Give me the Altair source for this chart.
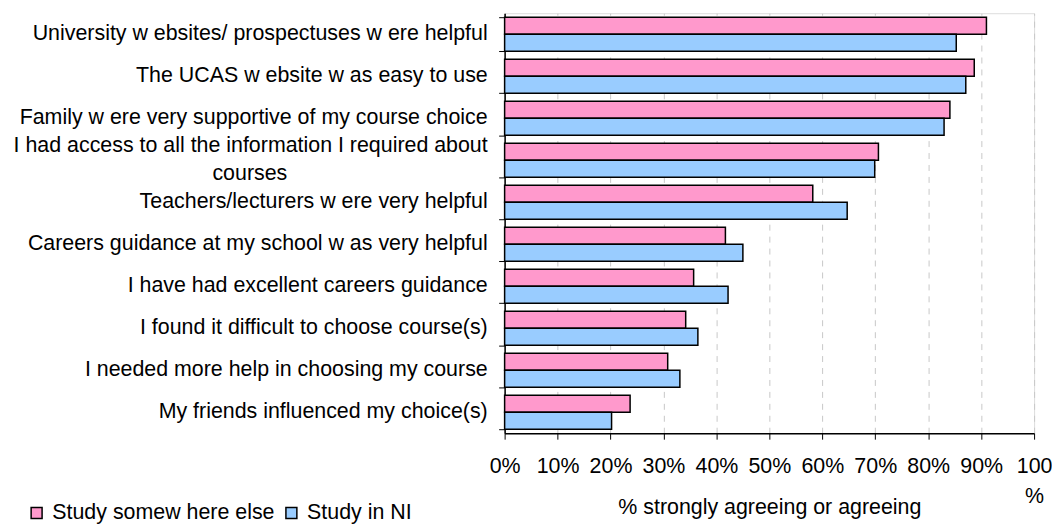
import altair as alt
import pandas as pd

questions = [
    "University w ebsites/ prospectuses w ere helpful",
    "The UCAS w ebsite w as easy to use",
    "Family w ere very supportive of my course choice",
    "I had access to all the information I required about courses",
    "Teachers/lecturers w ere very helpful",
    "Careers guidance at my school w as very helpful",
    "I have had excellent careers guidance",
    "I found it difficult to choose course(s)",
    "I needed more help  in choosing my course",
    "My friends influenced my choice(s)",
]
# first line / wrapped second line of each category label
label_line1 = [
    "University w ebsites/ prospectuses w ere helpful",
    "The UCAS w ebsite w as easy to use",
    "Family w ere very supportive of my course choice",
    "I had access to all the information I required about",
    "Teachers/lecturers w ere very helpful",
    "Careers guidance at my school w as very helpful",
    "I have had excellent careers guidance",
    "I found it difficult to choose course(s)",
    "I needed more help  in choosing my course",
    "My friends influenced my choice(s)",
]
label_line2 = ["", "", "", "courses", "", "", "", "", "", ""]

series = ["Study somew here else", "Study in NI"]
somewhere_else = [91.0, 88.7, 84.1, 70.6, 58.2, 41.7, 35.7, 34.2, 30.8, 23.7]
in_ni = [85.3, 87.1, 83.0, 69.9, 64.7, 45.0, 42.2, 36.5, 33.1, 20.2]
x_ticks = [0, 0.1, 0.2, 0.3, 0.4, 0.5, 0.6, 0.7, 0.8, 0.9, 1.0]
colors = ["#FF99CC", "#99CCFF"]

rows = []
for q, a, b in zip(questions, somewhere_else, in_ni):
    rows.append({"question": q, "series": series[0], "value": a / 100})
    rows.append({"question": q, "series": series[1], "value": b / 100})
df = pd.DataFrame(rows)

labels_df = pd.DataFrame(
    {
        "question": questions,
        "line1": label_line1,
        "line2": label_line2,
        "wrapped": [l2 != "" for l2 in label_line2],
    }
)

FONT = "Liberation Sans"
FS = 21.5

y_enc = alt.Y(
    "question:N",
    sort=questions,
    scale=alt.Scale(paddingInner=0.19, paddingOuter=0.095),
    axis=alt.Axis(
        title=None,
        labels=False,
        tickBand="extent",
        tickColor="black",
        tickSize=6,
        domainColor="black",
        domainWidth=1.5,
        grid=False,
    ),
)

bars = (
    alt.Chart(df)
    .mark_bar(stroke="black", strokeWidth=1.5)
    .encode(
        x=alt.X(
            "value:Q",
            scale=alt.Scale(domain=[0, 1], nice=False),
            axis=alt.Axis(
                title="% strongly agreeing or agreeing",
                values=x_ticks,
                format=".0%",
                labelExpr="datum.value == 1 ? ['100', '%'] : datum.label",
                labelFontSize=FS,
                labelFont=FONT,
                labelColor="black",
                labelPadding=16,
                labelLineHeight=31,
                labelFlush=False,
                labelOverlap=False,
                tickColor="black",
                tickSize=6,
                domainColor="black",
                domainWidth=1.5,
                grid=True,
                gridColor="#c8c8c8",
                gridDash=[6, 6],
                gridWidth=1,
                titleFont=FONT,
                titleFontSize=FS,
                titleFontWeight="normal",
                titleColor="black",
                titleBaseline="alphabetic",
                titleY=81,
            ),
        ),
        y=y_enc,
        yOffset=alt.YOffset("series:N", sort=series, scale=alt.Scale(paddingInner=0, paddingOuter=0)),
        color=alt.Color(
            "series:N",
            sort=series,
            scale=alt.Scale(domain=series, range=colors),
            legend=alt.Legend(
                title=None,
                orient="none",
                direction="horizontal",
                legendX=-481,
                legendY=491,
                symbolType="square",
                symbolSize=121,
                symbolStrokeColor="black",
                symbolStrokeWidth=1.5,
                symbolOpacity=1,
                labelFontSize=FS,
                labelFont=FONT,
                labelColor="black",
                labelOffset=5,
                columnPadding=6,
                padding=0,
                labelLimit=400,
            ),
        ),
    )
)

text_style = dict(font=FONT, fontSize=FS, color="black", baseline="middle")

single = (
    alt.Chart(labels_df)
    .transform_filter("!datum.wrapped")
    .mark_text(align="right", **text_style)
    .encode(y=alt.Y("question:N", sort=questions), x=alt.value(-17), text="line1:N")
)
wrapped_first = (
    alt.Chart(labels_df)
    .transform_filter("datum.wrapped")
    .mark_text(align="right", dy=-14, **text_style)
    .encode(y=alt.Y("question:N", sort=questions), x=alt.value(-17), text="line1:N")
)
wrapped_second = (
    alt.Chart(labels_df)
    .transform_filter("datum.wrapped")
    .mark_text(align="center", dy=14, **text_style)
    .encode(y=alt.Y("question:N", sort=questions), x=alt.value(-256), text="line2:N")
)

chart = (
    alt.layer(bars, single, wrapped_first, wrapped_second)
    .properties(
        width=532,
        height=422,
        autosize=alt.AutoSizeParams(type="none"),
        padding={"left": 499, "top": 4, "right": 18, "bottom": 90},
    )
    .configure_view(stroke="#808080", strokeWidth=1.5)
    .configure(background="white")
)

chart.save("out.html", embed_options={"renderer": "svg", "actions": False})
